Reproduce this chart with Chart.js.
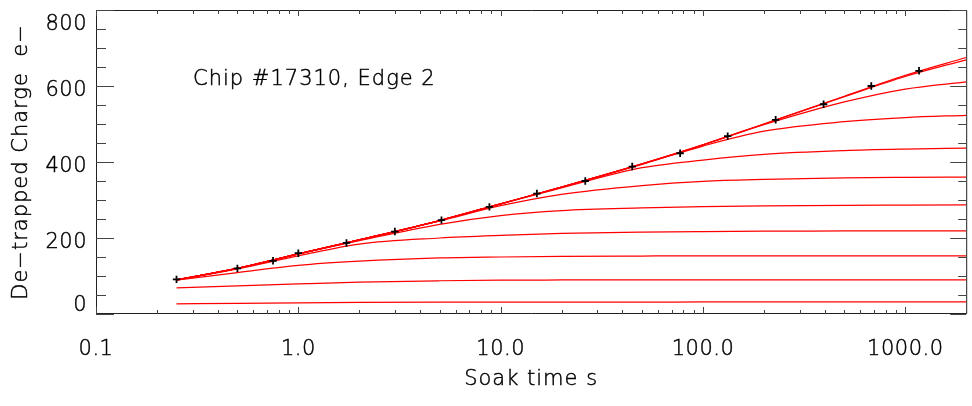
<!DOCTYPE html>
<html>
<head>
<meta charset="utf-8">
<script src="https://cdn.jsdelivr.net/npm/chart.js@4.4.1/dist/chart.umd.min.js"></script>
<style>
  html, body { margin: 0; padding: 0; background: #fff; }
  canvas { display: block; }
</style>
</head>
<body>
<canvas id="c" width="972" height="406"></canvas>
<script>
// Soak times (s) at which the fitted de-trapping curves are sampled
const soakTimes = [0.25, 0.5, 1, 2, 5, 10, 20, 50, 100, 200, 500, 1000, 2000];

// Full fit and partial sums of trap populations (e-)
const curveTotal = [90, 120, 158, 195, 246, 290, 334, 395, 445, 500, 573, 628, 675];
const curve10    = [90, 120, 158, 195, 246, 290, 334, 395, 445, 500, 572, 625, 669];
const curve9     = [90, 120, 158, 195, 246, 290, 334, 395, 445, 498, 558, 592, 611];
const curve8     = [90, 120, 158, 195, 246, 290, 334, 394, 442, 481, 506, 517, 523];
const curve7     = [90, 120, 158, 195, 246, 290, 332, 385, 405, 420, 430, 434, 436.5];
const curve6     = [90, 120, 158, 195, 245, 285, 315, 338, 349, 354, 358, 359.5, 360.5];
const curve5     = [90, 120, 158, 193, 236, 259, 272, 279, 282.5, 284.5, 286, 286.5, 287];
const curve4     = [90, 119, 153, 184, 200, 207, 212, 215.5, 217, 218, 218.5, 219, 219];
const curve3     = [89, 109, 128, 139, 147.5, 150, 151.5, 152.5, 153, 153, 153, 153, 153];
const curve2     = [69, 74, 79, 84, 87.5, 89, 89.5, 90, 90, 90, 90, 90, 90];
const curve1     = [26.5, 28, 29.3, 30.3, 31, 31.2, 31.5, 31.5, 31.6, 31.6, 31.6, 31.6, 31.6];

// Measured de-trapped charge
const measuredTimes  = [0.25, 0.5, 0.75, 1.0, 1.73, 3.0, 5.1, 8.8, 15.1, 26.2, 44.7, 77.1, 132.5, 228.7, 394.5, 679, 1169];
const measuredCharge = [91, 120, 140, 160, 187, 217, 247, 282, 317, 350, 388, 423, 468, 511, 552, 600, 640];

// Axis ticks
const xTickValues = [0.1, 1, 10, 100, 1000];
const xTickLabels = ['0.1', '1.0', '10.0', '100.0', '1000.0'];
const yTickValues = [0, 200, 400, 600, 800];
const yTickLabels = ['0', '200', '400', '600', '800'];

const xTitle = 'Soak time s';
const yTitle = 'De\u2212trapped Charge  e\u2212';
const note = 'Chip #17310, Edge 2';

const FONT = '300 21px "DejaVu Sans", sans-serif';

const fitCurves = [curveTotal, curve10, curve9, curve8, curve7, curve6, curve5, curve4, curve3, curve2, curve1];

const lineSets = fitCurves.map(vals => ({
  type: 'line',
  data: soakTimes.map((t, i) => ({ x: t, y: vals[i] })),
  borderColor: '#ff0000',
  borderWidth: 1.25,
  pointRadius: 0,
  fill: false,
  cubicInterpolationMode: 'monotone',
  order: 1
}));

const pointSet = {
  type: 'line',
  data: measuredTimes.map((t, i) => ({ x: t, y: measuredCharge[i] })),
  showLine: false,
  pointStyle: 'cross',
  pointRadius: 3.7,
  pointBorderWidth: 1.8,
  pointBorderColor: '#000',
  pointBackgroundColor: '#000',
  order: 0
};

// thin vector-style text: light face with a fine outline
function drawText(ctx, str, x, y) {
  ctx.fillText(str, x, y);
  ctx.strokeText(str, x, y);
}

// Axis box, ticks and all labels, positioned from the chart's scales
const framePlugin = {
  id: 'frame',
  afterDraw(chart) {
    const { ctx, chartArea: a } = chart;
    const xs = chart.scales.x, ys = chart.scales.y;
    ctx.save();

    // box
    ctx.strokeStyle = '#222';
    ctx.lineWidth = 1;
    ctx.beginPath();
    ctx.moveTo(a.left + 0.5, a.top + 0.5);
    ctx.lineTo(a.left + 0.5, a.bottom - 0.5);
    ctx.lineTo(a.right + 0.5, a.bottom - 0.5);
    ctx.moveTo(a.left + 0.5, a.top + 0.5);
    ctx.lineTo(a.right + 0.5, a.top + 0.5);
    ctx.lineTo(a.right + 0.5, a.bottom - 0.5);
    ctx.stroke();

    // y ticks every 50, long ones every 200
    ctx.strokeStyle = '#444';
    ctx.beginPath();
    for (let v = 0; v <= 800; v += 50) {
      const py = Math.round(ys.getPixelForValue(v)) + 0.5;
      const major = v % 200 === 0;
      ctx.moveTo(a.left, py); ctx.lineTo(a.left + (major ? 18 : 10), py);
      ctx.moveTo(a.right, py); ctx.lineTo(a.right - (major ? 16 : 8), py);
    }
    // x ticks: decades long, 2..9 short
    for (let d = 0.1; d <= 1000; d *= 10) {
      for (let m = 1; m <= 9; m++) {
        const v = d * m;
        if (v > 2000.001) break;
        const px = Math.round(xs.getPixelForValue(v)) + 0.5;
        const major = m === 1;
        ctx.moveTo(px, a.bottom); ctx.lineTo(px, a.bottom - (major ? 7 : 4));
        ctx.moveTo(px, a.top); ctx.lineTo(px, a.top + (major ? 6 : 4));
      }
    }
    ctx.stroke();

    ctx.fillStyle = '#000';
    ctx.strokeStyle = '#000';
    ctx.lineWidth = 0.45;
    ctx.font = FONT;
    ctx.textBaseline = 'middle';

    // y tick labels, kept inside the axis span
    ctx.letterSpacing = '0.5px';
    ctx.textAlign = 'right';
    yTickValues.forEach((v, i) => {
      let py = ys.getPixelForValue(v) + 4.5;
      py = Math.min(Math.max(py, a.top + 15), a.bottom - 8);
      drawText(ctx, yTickLabels[i], a.left - 9, py);
    });

    // x tick labels
    ctx.textAlign = 'center';
    xTickValues.forEach((v, i) => {
      drawText(ctx, xTickLabels[i], xs.getPixelForValue(v), a.bottom + 36);
    });

    // titles
    ctx.letterSpacing = '1px';
    drawText(ctx, xTitle, (a.left + a.right) / 2, a.bottom + 66);

    ctx.save();
    ctx.translate(22, (a.top + a.bottom) / 2);
    ctx.rotate(-Math.PI / 2);
    drawText(ctx, yTitle, 0, 0);
    ctx.restore();

    // annotation
    ctx.textAlign = 'left';
    drawText(ctx, note, a.left + 97, a.top + 70);

    ctx.restore();
  }
};

new Chart(document.getElementById('c'), {
  type: 'line',
  data: { datasets: [pointSet, ...lineSets] },
  options: {
    responsive: false,
    animation: false,
    events: [],
    layout: { padding: { left: 96, right: 0, top: 10, bottom: 92 } },
    plugins: { legend: { display: false }, tooltip: { enabled: false } },
    scales: {
      x: { type: 'logarithmic', min: 0.1, max: 2000, display: false },
      y: { type: 'linear', min: 0, max: 800, display: false }
    }
  },
  plugins: [framePlugin]
});
</script>
</body>
</html>
